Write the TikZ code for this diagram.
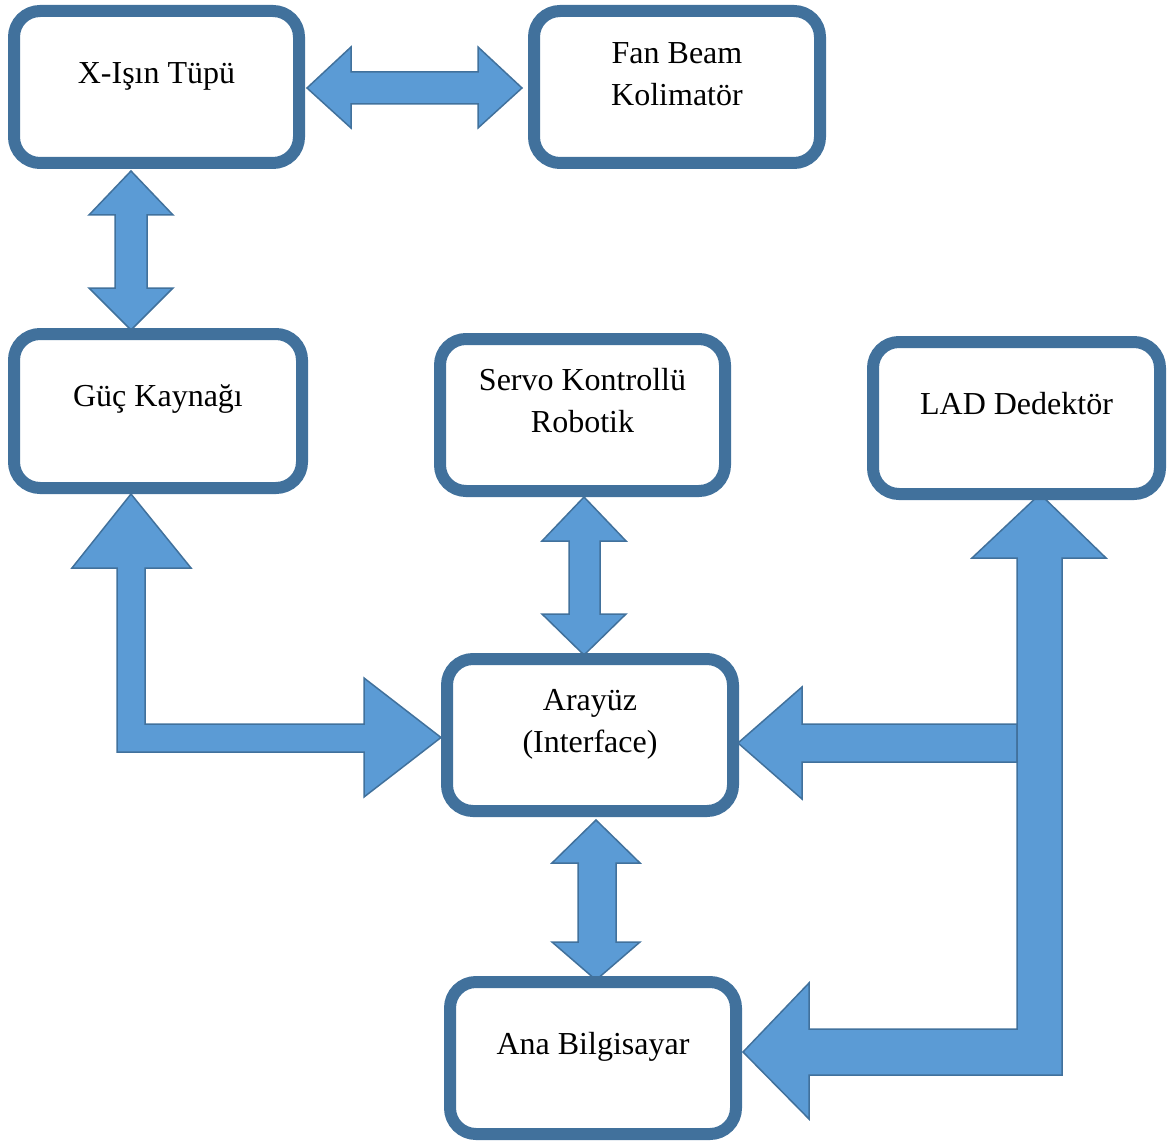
\documentclass[tikz,border=0pt]{standalone}
\usepackage{fontspec}
\setmainfont{Liberation Serif}
\definecolor{boxblue}{HTML}{41719C}
\definecolor{arrowfill}{HTML}{5B9BD5}
\begin{document}
\begin{tikzpicture}[x=1pt,y=-1pt,
  box/.style={draw=boxblue, line width=12pt, fill=white, rounded corners=26pt,
    rectangle, inner sep=0pt, outer sep=0pt},
  blockarrow/.style={draw=boxblue, line width=1.5pt, fill=arrowfill, line join=miter},
  lbl/.style={anchor=base, inner sep=0pt, font=\fontsize{32}{42}\selectfont}]
\useasboundingbox (0,0) rectangle (1173,1142);
% block arrows
\draw[blockarrow] (307,88) -- (351,47) -- (351,72) -- (478,72) -- (478,47) -- (522,88)
  -- (478,128) -- (478,104) -- (351,104) -- (351,128) -- cycle;
\draw[blockarrow] (131,171) -- (173,215) -- (147,215) -- (147,288) -- (173,288) -- (131,330)
  -- (89,288) -- (115,288) -- (115,215) -- (89,215) -- cycle;
\draw[blockarrow] (131,494) -- (191,568) -- (145,568) -- (145,724) -- (364,724) -- (364,678)
  -- (441,737.5) -- (364,797) -- (364,752) -- (117,752) -- (117,568) -- (72,568) -- cycle;
\draw[blockarrow] (584,497) -- (626,541) -- (600,541) -- (600,614) -- (626,614) -- (584,655)
  -- (542,614) -- (569,614) -- (569,541) -- (542,541) -- cycle;
\draw[blockarrow] (596,820) -- (640,863) -- (616,863) -- (616,942) -- (640,942) -- (596,980)
  -- (552,942) -- (578,942) -- (578,863) -- (552,863) -- cycle;
\draw[blockarrow] (738,743) -- (802,687) -- (802,724) -- (1017,724) -- (1017,762) -- (802,762)
  -- (802,799) -- cycle;
\draw[blockarrow] (1040,494) -- (1106,558) -- (1062,558) -- (1062,1075) -- (809,1075) -- (809,1119)
  -- (743,1052) -- (809,983) -- (809,1029) -- (1017,1029) -- (1017,558) -- (972,558) -- cycle;
% boxes
\node[box, minimum width=285pt, minimum height=152pt] (A) at (156.5,87) {};
\node[box, minimum width=286pt, minimum height=152pt] (B) at (677,87) {};
\node[box, minimum width=288pt, minimum height=154pt] (C) at (158,411) {};
\node[box, minimum width=285pt, minimum height=152pt] (D) at (582.5,415) {};
\node[box, minimum width=287pt, minimum height=152pt] (E) at (1016.5,418) {};
\node[box, minimum width=286pt, minimum height=152pt] (F) at (590,735) {};
\node[box, minimum width=286pt, minimum height=152pt] (G) at (593,1058) {};
% labels
\node[lbl] (tA) at (156.5,83.5) {X-Işın Tüpü};
\node[lbl] (tB1) at (677,63.5) {Fan Beam};
\node[lbl] (tB2) at (677,105.5) {Kolimatör};
\node[lbl] (tC) at (158,406.5) {Güç Kaynağı};
\node[lbl] (tD1) at (582.5,390.5) {Servo Kontrollü};
\node[lbl] (tD2) at (582.5,432.5) {Robotik};
\node[lbl] (tE) at (1016.5,414.5) {LAD Dedektör};
\node[lbl] (tF1) at (590,710.5) {Arayüz};
\node[lbl] (tF2) at (590,752.5) {(Interface)};
\node[lbl] (tG) at (593,1054.5) {Ana Bilgisayar};
\end{tikzpicture}
\end{document}
